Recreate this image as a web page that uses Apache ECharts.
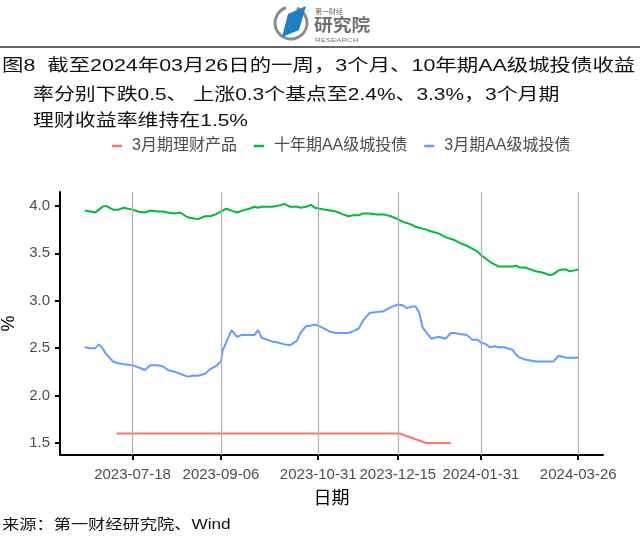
<!DOCTYPE html>
<html><head><meta charset="utf-8">
<script src="https://cdn.jsdelivr.net/npm/echarts@6/dist/echarts.min.js"></script>
<style>html,body{margin:0;padding:0;background:#fff}#c{width:640px;height:546px}</style>
</head><body><div id="c"></div><script>
// ---- data ----
const seriesNames = ['3月期理财产品', '十年期AA级城投债', '3月期AA级城投债'];
const dates = [
 '2023-06-21','2023-06-24','2023-06-27','2023-06-29','2023-07-01','2023-07-03','2023-07-07','2023-07-10','2023-07-13','2023-07-18',
 '2023-07-21','2023-07-25','2023-07-28','2023-08-01','2023-08-04','2023-08-07','2023-08-11','2023-08-14','2023-08-18','2023-08-21',
 '2023-08-24','2023-08-28','2023-08-31','2023-09-03','2023-09-06','2023-09-07','2023-09-09','2023-09-12','2023-09-15','2023-09-18',
 '2023-09-22','2023-09-25','2023-09-27','2023-09-29','2023-10-02','2023-10-05','2023-10-08','2023-10-12','2023-10-15','2023-10-19',
 '2023-10-21','2023-10-24','2023-10-27','2023-10-29','2023-11-01','2023-11-04','2023-11-07','2023-11-10','2023-11-14','2023-11-17',
 '2023-11-20','2023-11-23','2023-11-25','2023-11-27','2023-11-29','2023-12-03','2023-12-07','2023-12-11','2023-12-15','2023-12-18',
 '2023-12-20','2023-12-23','2023-12-25','2023-12-27','2023-12-29','2023-12-31','2024-01-03','2024-01-07','2024-01-11','2024-01-14',
 '2024-01-16','2024-01-19','2024-01-23','2024-01-26','2024-01-29','2024-01-31','2024-02-03','2024-02-05','2024-02-08','2024-02-10',
 '2024-02-13','2024-02-15','2024-02-18','2024-02-20','2024-02-22','2024-02-25','2024-02-28','2024-03-02','2024-03-05','2024-03-07',
 '2024-03-10','2024-03-12','2024-03-15','2024-03-17','2024-03-19','2024-03-21','2024-03-24','2024-03-26'
];
const tenYearAA = [
 3.95,3.94,3.93,3.96,3.99,4.00,3.96,3.96,3.98,3.96,
 3.94,3.93,3.95,3.94,3.94,3.93,3.92,3.93,3.88,3.87,
 3.86,3.89,3.89,3.91,3.94,3.95,3.97,3.95,3.93,3.95,
 3.97,3.99,3.98,3.99,3.99,3.99,4.00,4.02,3.99,3.99,
 3.98,3.99,4.01,3.98,3.97,3.96,3.95,3.94,3.91,3.89,
 3.90,3.90,3.92,3.92,3.92,3.91,3.91,3.89,3.86,3.83,
 3.82,3.80,3.78,3.77,3.76,3.75,3.73,3.71,3.67,3.65,
 3.64,3.61,3.58,3.55,3.52,3.48,3.44,3.41,3.38,3.36,
 3.36,3.36,3.36,3.37,3.35,3.35,3.33,3.31,3.30,3.29,
 3.27,3.28,3.32,3.33,3.33,3.31,3.32,3.33
];
const threeMonthAA = [
 2.51,2.50,2.50,2.54,2.50,2.44,2.36,2.34,2.33,2.32,
 2.30,2.27,2.32,2.32,2.31,2.27,2.25,2.23,2.20,2.21,
 2.21,2.23,2.28,2.31,2.36,2.48,2.56,2.69,2.62,2.64,
 2.64,2.64,2.69,2.61,2.59,2.57,2.56,2.54,2.53,2.58,
 2.66,2.73,2.74,2.75,2.73,2.70,2.67,2.66,2.66,2.66,
 2.68,2.71,2.78,2.83,2.87,2.88,2.89,2.93,2.96,2.95,
 2.92,2.94,2.94,2.88,2.72,2.67,2.60,2.62,2.60,2.66,
 2.66,2.65,2.64,2.59,2.59,2.56,2.54,2.51,2.52,2.51,
 2.51,2.50,2.48,2.43,2.40,2.38,2.37,2.36,2.36,2.36,
 2.36,2.36,2.42,2.41,2.40,2.40,2.40,2.40
];
const wmpDates = ['2023-07-09','2023-12-16','2023-12-31','2024-01-14'];
const wmpValues = [1.6, 1.6, 1.5, 1.5];
const xTickLabels = ['2023-07-18','2023-09-06','2023-10-31','2023-12-15','2024-01-31','2024-03-26'];
const yTickValues = [1.5, 2.0, 2.5, 3.0, 3.5, 4.0];
const xRange = ['2023-06-07', '2024-04-09'];
const yRange = [1.374, 4.146];

// ---- helpers ----
const toTs = s => new Date(s + 'T00:00:00').getTime();
const pad = n => (n < 10 ? '0' : '') + n;
const fmtDate = v => { const d = new Date(v); return d.getFullYear() + '-' + pad(d.getMonth() + 1) + '-' + pad(d.getDate()); };
const xTicks = xTickLabels.map(toTs);
const FONT = '"Liberation Sans","Noto Sans CJK SC",sans-serif';
const SX = 1.23;

const chart = echarts.init(document.getElementById('c'), null, {renderer: 'canvas'});
const option = {
  animation: false,
  backgroundColor: '#ffffff',
  color: ['#F8766D', '#00BA38', '#619CFF'],
  legend: {
    data: seriesNames, top: 133, left: 107, icon: 'rect',
    itemWidth: 10, itemHeight: 2.5, itemGap: 17,
    textStyle: {fontFamily: FONT, fontSize: 16, color: '#4d4d4d', padding: [0, 0, 0, 5]}
  },
  grid: {left: 60, right: 37, top: 192, bottom: 91, containLabel: false, outerBoundsMode: 'none'},
  xAxis: {
    type: 'value', min: toTs(xRange[0]), max: toTs(xRange[1]),
    axisLine: {lineStyle: {color: '#000', width: 2}},
    axisTick: {customValues: xTicks, length: 5, lineStyle: {color: '#000', width: 2}},
    axisLabel: {customValues: xTicks, formatter: v => fmtDate(v), color: '#4d4d4d', fontSize: 15,
                fontFamily: FONT, margin: 12, hideOverlap: false, showMinLabel: true, showMaxLabel: true},
    splitLine: {show: false},
    name: '日期', nameLocation: 'middle', nameGap: 35,
    nameTextStyle: {fontFamily: FONT, fontSize: 18, color: '#000'}
  },
  yAxis: {
    type: 'value', min: yRange[0], max: yRange[1],
    axisLine: {show: true, lineStyle: {color: '#000', width: 2}},
    axisTick: {show: true, customValues: yTickValues, length: 5, lineStyle: {color: '#000', width: 2}},
    axisLabel: {customValues: yTickValues, formatter: v => v.toFixed(1), color: '#4d4d4d', fontSize: 15,
                fontFamily: FONT, margin: 10, showMinLabel: true, showMaxLabel: true},
    splitLine: {show: false},
    name: '%', nameLocation: 'middle', nameGap: 40, nameRotate: 90,
    nameTextStyle: {fontFamily: FONT, fontSize: 18, color: '#000'}
  },
  series: [
    {
      name: seriesNames[0], type: 'line', showSymbol: false, symbol: 'none',
      lineStyle: {width: 2},
      data: wmpDates.map((d, i) => [toTs(d), wmpValues[i]]),
      markLine: {
        silent: true, symbol: ['none', 'none'], label: {show: false},
        lineStyle: {color: '#b0b0b0', width: 1.2, type: 'solid'},
        emphasis: {disabled: true},
        data: xTicks.map(t => ({xAxis: t}))
      }
    },
    {
      name: seriesNames[1], type: 'line', showSymbol: false, symbol: 'none',
      lineStyle: {width: 2},
      data: dates.map((d, i) => [toTs(d), tenYearAA[i]])
    },
    {
      name: seriesNames[2], type: 'line', showSymbol: false, symbol: 'none',
      lineStyle: {width: 2},
      data: dates.map((d, i) => [toTs(d), threeMonthAA[i]])
    }
  ],
  graphic: [
    // logo
    {type: 'arc', shape: {cx: 291, cy: 23, r: 16, startAngle: -1.2, endAngle: 4.4}, style: {stroke: '#8c8c8c', lineWidth: 3, fill: 'none'}},
    {type: 'polygon', shape: {points: [[282, 37], [288, 14], [306, 6], [299, 30]]}, style: {fill: '#1f7fc4'}},
    {type: 'text', x: 315, y: 12, style: {text: '第一财经', fontSize: 7, fontFamily: FONT, fill: '#666', verticalAlign: 'middle'}},
    {type: 'text', x: 314, y: 26, scaleX: 1.1, style: {text: '研究院', fontSize: 17, fontWeight: 'bold', fontFamily: FONT, fill: '#707070', verticalAlign: 'middle'}},
    {type: 'text', x: 315, y: 40, scaleX: 1.3, style: {text: 'RESEARCH', fontSize: 6, fontFamily: FONT, fill: '#777', verticalAlign: 'middle'}},
    // rule
    {type: 'line', shape: {x1: 0, y1: 47, x2: 640, y2: 47}, style: {stroke: '#333', lineWidth: 1.5}},
    // title
    {type: 'text', x: 2, y: 66, scaleX: 1.26, style: {text: '图8  截至2024年03月26日的一周，3个月、10年期AA级城投债收益', fontSize: 17, fontFamily: FONT, fill: '#111', verticalAlign: 'middle'}},
    {type: 'text', x: 33, y: 95, scaleX: SX, style: {text: '率分别下跌0.5、 上涨0.3个基点至2.4%、3.3%，3个月期', fontSize: 17, fontFamily: FONT, fill: '#111', verticalAlign: 'middle'}},
    {type: 'text', x: 33, y: 121, scaleX: SX, style: {text: '理财收益率维持在1.5%', fontSize: 17, fontFamily: FONT, fill: '#111', verticalAlign: 'middle'}},
    // source
    {type: 'text', x: 2, y: 525, scaleX: SX, style: {text: '来源：第一财经研究院、Wind', fontSize: 14, fontFamily: FONT, fill: '#111', verticalAlign: 'middle'}}
  ]
};
chart.setOption(option);
</script></body></html>
